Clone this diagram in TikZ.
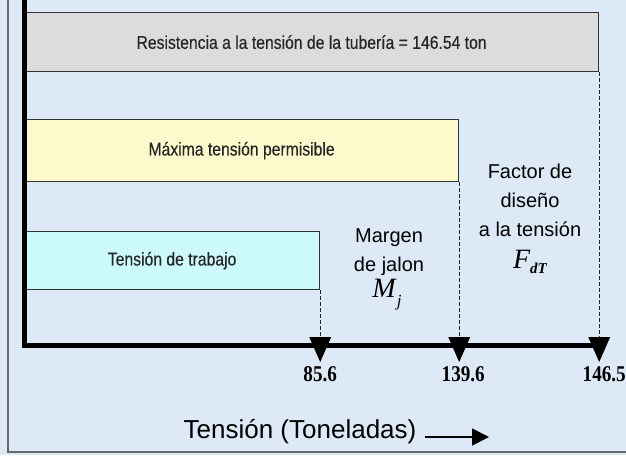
\documentclass[tikz,border=0pt]{standalone}
\usepackage{fontspec}
\setmainfont{Liberation Sans}
\newfontfamily\timesfont{Liberation Serif}
\newfontfamily\tickfont[FakeStretch=0.85]{Liberation Serif}
\newfontfamily\barfont[FakeStretch=0.85, FakeBold=0.4]{Liberation Sans}
\definecolor{bgblue}{RGB}{221,233,246}
\definecolor{framegray}{RGB}{105,105,105}
\definecolor{boxgray}{RGB}{220,220,220}
\definecolor{boxyellow}{RGB}{252,250,204}
\definecolor{boxcyan}{RGB}{204,250,250}
\usetikzlibrary{arrows.meta,positioning}

\begin{document}
\begin{tikzpicture}[x=1pt, y=-1pt,
    bar/.style={draw=black!80, line width=1.2pt, anchor=north west, inner sep=0pt, text=black!85, font=\barfont\fontsize{18.5}{20}\selectfont},
    guide/.style={black!85, line width=0.8pt, dash pattern=on 4pt off 2pt},
    tick/.style={font=\tickfont\bfseries\fontsize{22.5}{24}\selectfont},
    note/.style={align=center, font=\fontsize{20}{29}\selectfont}]

    % Background and frame
    \fill[bgblue] (0,0) rectangle (626,455);
    \useasboundingbox (0,0) rectangle (626,455);
    \clip (0,0) rectangle (626,455);
    \draw[framegray, line width=1.5pt] (8,-2) -- (8,452) -- (630,452);

    % Bars
    \node[bar, fill=boxgray, minimum width=574pt, minimum height=59pt] (resist) at (24,12) {Resistencia a la tensión de la tubería = 146.54 ton};
    \node[bar, fill=boxyellow, minimum width=434pt, minimum height=62pt] (maxima) at (24,119) {Máxima tensión permisible};
    \node[bar, fill=boxcyan, minimum width=295pt, minimum height=58pt] (trabajo) at (24,231) {Tensión de trabajo};

    % Axis and guides
    \coordinate (origin) at (24,345);
    \coordinate (tA) at (trabajo.south east |- origin);
    \coordinate (tB) at (maxima.south east |- origin);
    \coordinate (tC) at (resist.south east |- origin);
    \draw[guide] (trabajo.south east) -- (tA);
    \draw[guide] (maxima.south east) -- (tB);
    \draw[guide] (resist.south east) -- (tC);
    \draw[line width=5pt, line join=miter] (origin |- 0,-5) -- (origin) -- (tC);

    % Ticks
    \foreach \t/\v/\dx [count=\i] in {tA/85.6/0, tB/139.6/4, tC/146.5/5} {
      \fill (\t) ++(-11,-8) -- ++(22,0) -- ++(-11,25) -- cycle;
      \node[tick] (val\i) at ([xshift=\dx pt, yshift=-29pt]\t) {\v};
    }

    % Margins
    \node[note] (margen) at (389,252) {Margen\\de jalon};
    \node[font=\timesfont\itshape\fontsize{28}{28}\selectfont] (mj) at (387,295) {M\kern1pt\raisebox{-9pt}{\fontsize{17}{17}\selectfont j}};
    \node[note] (factor) at (530,200) {Factor de\\diseño\\a la tensión};
    \node[font=\timesfont\itshape\fontsize{28}{28}\selectfont] (fdt) at (530,262) {F\raisebox{-5pt}{\fontsize{15}{15}\selectfont\bfseries dT}};

    % Axis caption
    \node[font=\fontsize{26}{26}\selectfont] (caption) at (300,432) {Tensión (Toneladas)};
    \coordinate (capend) at (489,437);
    \draw[line width=1.6pt, -{Triangle[length=17pt,width=17pt]}] ([xshift=5pt, yshift=-5pt]caption.east) -- (capend);
\end{tikzpicture}
\end{document}
